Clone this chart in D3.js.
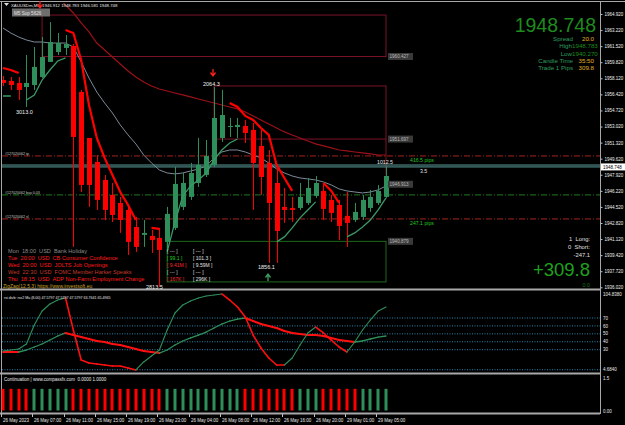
<!DOCTYPE html>
<html>
<head>
<meta charset="utf-8">
<script src="https://cdn.jsdelivr.net/npm/d3@7/dist/d3.min.js"></script>
<style>
  body { margin: 0; background: #000; }
  svg { display: block; font-family: "Liberation Sans", Arial, sans-serif; }
  text { white-space: pre; }
</style>
</head>
<body>
<svg id="chart" width="625" height="425"></svg>
<script>
// candles (XAUUSDm)
const candleOpen = [1957.94, 1957.84, 1957.63, 1957.20, 1957.41, 1958.26, 1959.85, 1960.90, 1961.33, 1961.54,
  1956.67, 1951.81, 1949.27, 1947.37, 1945.79, 1944.94, 1944.20, 1942.40, 1941.56, 1941.45,
  1941.24, 1940.82, 1942.30, 1944.52, 1945.58, 1947.05, 1947.90, 1948.96, 1951.81, 1952.97,
  1952.97, 1953.08, 1952.66, 1950.97, 1949.17, 1947.05, 1944.52, 1944.41, 1944.41, 1944.94,
  1945.68, 1946.21, 1945.26, 1944.73, 1943.57, 1943.14, 1943.46, 1944.41, 1944.94, 1945.58];
const candleHigh = [1958.37, 1958.26, 1958.26, 1960.59, 1961.43, 1962.49, 1964.07, 1962.91, 1962.70, 1961.75,
  1956.89, 1951.81, 1950.01, 1947.90, 1947.05, 1945.58, 1944.52, 1943.46, 1943.14, 1942.09,
  1942.30, 1944.52, 1948.75, 1948.11, 1949.17, 1951.81, 1951.60, 1957.20, 1956.89, 1953.93,
  1953.93, 1953.71, 1953.40, 1952.66, 1950.54, 1948.75, 1946.53, 1945.58, 1947.05, 1947.58,
  1947.79, 1947.05, 1945.79, 1945.26, 1946.10, 1944.94, 1945.79, 1946.32, 1946.84, 1948.75];
const candleLow = [1957.31, 1956.89, 1955.83, 1955.09, 1956.89, 1958.15, 1959.85, 1960.59, 1960.59, 1940.29,
  1946.10, 1944.52, 1944.20, 1943.14, 1942.93, 1941.77, 1939.44, 1939.76, 1940.29, 1939.65,
  1936.06, 1939.97, 1942.09, 1944.20, 1945.26, 1946.63, 1947.69, 1948.75, 1951.39, 1951.92,
  1951.81, 1951.28, 1944.20, 1945.79, 1938.60, 1938.60, 1942.83, 1942.93, 1944.20, 1944.73,
  1945.47, 1943.14, 1942.93, 1941.03, 1940.29, 1942.93, 1943.14, 1943.99, 1944.73, 1945.47];
const candleClose = [1957.63, 1957.41, 1956.89, 1957.63, 1959.32, 1960.37, 1961.96, 1961.85, 1961.75, 1951.92,
  1946.84, 1946.84, 1945.26, 1944.20, 1943.67, 1943.14, 1940.82, 1940.29, 1941.77, 1941.03,
  1939.97, 1943.78, 1946.95, 1947.05, 1948.11, 1948.96, 1949.91, 1953.93, 1954.24, 1953.08,
  1953.19, 1952.34, 1949.17, 1947.69, 1944.94, 1941.98, 1944.20, 1944.20, 1945.58, 1946.53,
  1947.05, 1944.31, 1943.88, 1942.51, 1942.83, 1943.99, 1945.26, 1945.58, 1946.21, 1947.79];

// moving averages on price (null = not drawn)
const trendDown = [1959.21, 1959.00, 1958.68, null, null, null, null, null, 1963.23, 1962.91,
  1960.06, 1955.30, 1951.81, 1949.70, 1947.90, 1946.10, 1944.73, 1943.14, null, 1942.30,
  1942.19, null, null, null, null, null, null, null, null, 1955.51,
  1955.09, 1954.14, 1953.71, 1952.87, 1952.13, 1948.96, 1947.58, 1946.21, null, null,
  null, 1947.05, 1946.21, 1944.94, null, null, null, null, null, null];
const trendUp = [1956.25, 1956.25, null, 1955.83, 1956.36, 1957.94, 1959.00, 1959.95, 1960.27, null,
  null, null, null, null, null, null, null, null, null, null,
  null, 1939.76, 1942.93, 1945.68, 1946.74, 1947.37, 1948.11, 1949.49, 1950.54, 1951.28,
  1951.70, null, null, null, null, 1940.82, 1941.35, 1942.30, 1943.36, 1944.20,
  1945.05, null, null, null, 1941.35, 1941.77, 1942.40, 1943.14, 1944.20, 1945.47];
const maGrey = [1963.44, 1962.91, 1962.49, 1962.17, 1961.96, 1961.96, 1961.85, 1961.85, 1961.85, 1961.43,
  1959.85, 1958.15, 1956.67, 1955.51, 1954.45, 1953.19, 1952.13, 1951.18, 1950.01, 1949.17,
  1948.43, 1948.11, 1948.01, 1948.11, 1948.32, 1948.53, 1948.85, 1949.70, 1950.33, 1950.54,
  1950.54, 1950.33, 1950.01, 1949.70, 1949.17, 1948.53, 1948.11, 1947.79, 1947.58, 1947.48,
  1947.37, 1947.16, 1946.84, 1946.42, 1946.21, 1946.10, 1946.00, 1946.10, 1946.32, 1946.74];
const maSlow = [null, null, null, null, null, null, null, 1966.72, 1965.87, 1965.03,
  1963.97, 1963.02, 1961.85, 1961.11, 1960.37, 1959.63, 1958.89, 1958.26, 1957.73, 1957.31,
  1956.99, 1956.78, 1956.57, 1956.36, 1956.15, 1955.93, 1955.72, 1955.51, 1955.30, 1955.09,
  1954.88, 1954.56, 1954.14, 1953.71, 1953.29, 1952.87, 1952.45, 1952.13, 1951.81, 1951.49,
  1951.18, 1950.97, 1950.76, 1950.54, 1950.44, 1950.33, 1950.23, 1950.12, 1950.01, 1950.01];

// rsi divb panel
const rsxFast = [28.4, 29.6, 30.9, 37.2, 61.2, 78.8, 87.7, 92.7, 95.2, 54.9,
  17.0, 13.2, 12.0, 10.7, 9.4, 9.4, 6.9, 4.4, 14.5, 22.0,
  29.6, 54.9, 76.3, 86.4, 91.5, 95.2, 97.8, 99.0, 100.3, 92.7,
  83.9, 71.3, 48.5, 32.1, 19.5, 10.7, 10.7, 19.5, 35.9, 51.1,
  58.6, 51.1, 42.2, 33.4, 27.1, 39.7, 54.9, 67.5, 78.8, 83.9];
const rsxMa = [27.1, 27.1, 27.1, 29.6, 33.4, 37.2, 42.2, 47.3, 51.1, 48.5,
  46.0, 43.5, 41.0, 39.7, 37.2, 35.9, 33.4, 30.9, 28.4, 27.1,
  25.8, 29.6, 35.9, 41.0, 44.8, 48.5, 52.3, 57.4, 62.4, 66.2,
  68.7, 70.0, 66.2, 62.4, 59.9, 57.4, 53.6, 51.1, 49.8, 48.5,
  48.5, 47.3, 44.8, 42.2, 41.0, 39.7, 41.0, 43.5, 46.0, 47.3];
const oscLevels = [70, 60, 50, 40, 30];

// continuation panel: 1 = up (green), 0 = down (red)
const contSignal = [0, 0, 0, 0, 1, 1, 1, 1, 1, 0,
  0, 0, 0, 0, 0, 0, 0, 0, 0, 0,
  0, 1, 1, 1, 1, 1, 1, 1, 1, 1,
  1, 0, 0, 0, 0, 0, 0, 0, 1, 1,
  1, 0, 0, 0, 0, 0, 1, 1, 1, 1];

const priceTicks = [1964.92, 1963.22, 1961.52, 1959.82, 1958.12, 1956.42, 1954.72, 1953.02, 1951.32,
  1949.62, 1947.92, 1946.22, 1944.52, 1942.82, 1941.12, 1939.42, 1937.72, 1936.02];
const timeTickIdx = [0, 4, 8, 12, 16, 20, 24, 28, 32, 36, 40, 44, 48];
const timeLabels = ['26 May 2023', '26 May 07:00', '26 May 11:00', '26 May 15:00', '26 May 19:00',
  '26 May 23:00', '26 May 04:00', '26 May 08:00', '26 May 12:00', '26 May 16:00',
  '26 May 20:00', '29 May 01:00', '29 May 05:00'];

const newsRows = ['Mon  18:00  USD  Bank Holiday', 'Tue  20:00  USD  CB Consumer Confidence',
  'Wed  20:00  USD  JOLTS Job Openings', 'Wed  22:30  USD  FOMC Member Harker Speaks',
  'Thu  18:15  USD  ADP Non-Farm Employment Change'];
const newsColors = ['#8a8a8a', '#ff1a1a', '#ff1a1a', '#c0392b', '#ff1a1a'];
const newsActual = ['[ --- ]', '[ 99.1 ]', '[ 9.41M ]', '[ --- ]', '[ 167K ]'];
const actualColors = ['#d0d0d0', '#1fd11f', '#ff2a2a', '#d0d0d0', '#ff2a2a'];
const newsForecast = ['[ --- ]', '[ 101.3 ]', '[ 9.59M ]', '[ --- ]', '[ 296K ]'];

const lastPrice = 1948.748;
const askPrice = 1948.95;
const orderTp = 1949.91, orderOpen = 1945.79, orderSl = 1943.25;

const W = 625, H = 425, axisX = 600;
const green = '#2f8f5b', red = '#ff0000';

const svg = d3.select('#chart');
svg.append('rect').attr('width', W).attr('height', H).attr('fill', '#000');

const x = d3.scaleLinear().domain([0, candleOpen.length - 1]).range([3, 386]);
const y = d3.scaleLinear().domain([1936.02, 1964.92]).range([287.3, 14]);
const yOsc = d3.scaleLinear().domain([30, 70]).range([349.7, 318]);
const yCont = d3.scaleLinear().domain([0, 1.5]).range([410.5, 378]);

const defs = svg.append('defs');
defs.append('clipPath').attr('id', 'clipMain').append('rect')
  .attr('x', 2).attr('y', 3).attr('width', axisX - 2).attr('height', 285);
defs.append('clipPath').attr('id', 'clipOsc').append('rect')
  .attr('x', 2).attr('y', 291).attr('width', axisX - 2).attr('height', 82);

// frame
const frame = svg.append('g').attr('stroke', '#a8a8a8').attr('fill', 'none');
frame.append('line').attr('x1', 0).attr('x2', W).attr('y1', 1.5).attr('y2', 1.5);
frame.append('line').attr('x1', 1.5).attr('x2', 1.5).attr('y1', 1).attr('y2', 414);
frame.append('line').attr('x1', axisX + 0.5).attr('x2', axisX + 0.5).attr('y1', 1).attr('y2', 414);
[289.5, 373.5, 413.5].forEach(yy => {
  frame.append('line').attr('x1', 0).attr('x2', axisX).attr('y1', yy).attr('y2', yy).attr('stroke-width', 2);
});

// ---------- main panel ----------
const g = svg.append('g').attr('clip-path', 'url(#clipMain)');

// boxes
const boxes = [
  { i0: 5, top: 1964.81, bottom: 1960.427, color: '#7a1328' },
  { i0: 27, top: 1957.31, bottom: 1951.697, color: '#7a1328' },
  { i0: 21, top: 1940.879, bottom: 1936.59, color: '#1e6a1e' }
];
boxes.forEach(b => {
  g.append('rect')
    .attr('x', x(b.i0)).attr('y', y(b.top))
    .attr('width', x(candleOpen.length - 1) - x(b.i0))
    .attr('height', y(b.bottom) - y(b.top))
    .attr('fill', 'none').attr('stroke', b.color).attr('stroke-width', 1);
});
g.append('line').attr('x1', x(49)).attr('x2', x(49))
  .attr('y1', y(1951.697)).attr('y2', y(1947.9)).attr('stroke', '#7a1328');

// order lines
function hLine(price, color, dash, width) {
  g.append('line').attr('x1', 2).attr('x2', axisX)
    .attr('y1', y(price)).attr('y2', y(price))
    .attr('stroke', color).attr('stroke-width', width || 1)
    .attr('stroke-dasharray', dash || null);
}
hLine(orderTp, '#a3241c', '6,2,1,2');
hLine(askPrice, '#5a9e9a');
hLine(lastPrice, '#5a9e9a');
hLine(orderOpen, '#1f7a1f', '6,2,1,2');
hLine(orderSl, '#a3241c', '6,2,1,2');

// moving averages
function maLine(data, color, width) {
  const line = d3.line()
    .defined(d => d != null)
    .x((d, i) => x(i))
    .y(d => y(d));
  g.append('path').datum(data)
    .attr('fill', 'none').attr('stroke', color).attr('stroke-width', width)
    .attr('d', line);
}
maLine(maSlow, '#9b1118', 1.2);
maLine(maGrey, '#7d8a99', 1);

// candles
const idx = d3.range(candleOpen.length);
const candles = g.append('g');
candles.selectAll('.wick').data(idx).enter().append('line')
  .attr('x1', i => Math.round(x(i)) + 0.5).attr('x2', i => Math.round(x(i)) + 0.5)
  .attr('y1', i => y(candleHigh[i])).attr('y2', i => y(candleLow[i]))
  .attr('stroke', i => candleClose[i] >= candleOpen[i] ? green : red);
candles.selectAll('.body').data(idx).enter().append('rect')
  .attr('x', i => Math.round(x(i)) - 2)
  .attr('y', i => y(Math.max(candleOpen[i], candleClose[i])))
  .attr('width', 5)
  .attr('height', i => Math.max(1, Math.abs(y(candleOpen[i]) - y(candleClose[i]))))
  .attr('fill', i => candleClose[i] >= candleOpen[i] ? green : red);

maLine(trendUp, '#3a9a66', 1.3);
maLine(trendDown, '#ff0000', 2.2);

// ---------- texts on main panel ----------
const txt = (px, py, s, size, color, anchor) => svg.append('text')
  .attr('x', px).attr('y', py).attr('font-size', size).attr('fill', color)
  .attr('text-anchor', anchor || 'start').text(s);

// header
svg.append('path').attr('d', 'M4,3 L9,3 L6.5,6 Z').attr('fill', '#ddd');
txt(11, 7, 'XAUUSDm,M5  1946.912 1948.783 1946.581 1948.748', 4.3, '#e8e8e8');
svg.append('rect').attr('x', 12).attr('y', 8.5).attr('width', 38).attr('height', 8).attr('fill', '#6e6e6e');
txt(14, 14.5, 'M5 Sup 5626', 4.6, '#e0e0e0');

// order labels
txt(5, y(orderTp) - 1, '#127020062 tp', 3.6, '#c8c8c8');
txt(5, y(orderOpen) - 1, '#127020062 buy 0.03', 3.6, '#c8c8c8');
txt(5, y(orderSl) - 1, '#127020062 sl', 3.6, '#c8c8c8');
txt(410, y(orderTp) + 6, '416.5 pips', 5.2, '#23c423');
txt(410, y(orderSl) + 6, '247.1 pips', 5.2, '#23c423');
txt(420, y(lastPrice) + 6, '3.5', 5.2, '#e0e0e0');
txt(377, y(lastPrice) - 2.5, '1012.5', 5.2, '#e8e8e8');

// zigzag labels
txt(16, y(1955.09) + 7, '3013.0', 5.5, '#f0f0f0');
txt(203, y(1957.20) - 1, '2064.3', 5.5, '#f0f0f0');
txt(146, 289, '2813.5', 5.5, '#f0f0f0');
txt(258, y(1938.60) + 6, '1856.1', 5.5, '#f0f0f0');
function arrow(px, py, color, down) {
  const s = down ? 1 : -1;
  svg.append('path')
    .attr('d', `M${px},${py - 4 * s} L${px},${py + 2 * s} M${px - 2.5},${py - 0.5 * s} L${px},${py + 3 * s} L${px + 2.5},${py - 0.5 * s}`)
    .attr('stroke', color).attr('stroke-width', 1.3).attr('fill', 'none');
}
arrow(213, 73, '#ff2020', true);
arrow(40, 5, '#ff2020', true);
arrow(268, 277, '#3aa060', false);

// box price labels
[[1960.427, '1960.427'], [1951.697, '1951.697'], [1946.913, '1946.913'], [1940.879, '1940.879']].forEach(d => {
  svg.append('rect').attr('x', 388).attr('y', y(d[0]) - 3.5).attr('width', 25).attr('height', 7).attr('fill', '#3a3a3a');
  txt(389.5, y(d[0]) + 1.6, d[1], 4.6, '#b8b8b8');
});

// news calendar
newsRows.forEach((s, i) => {
  const yy = 252.5 + i * 7;
  txt(8, yy, s, 5.6, newsColors[i]);
  txt(167, yy, newsActual[i], 5, actualColors[i]);
  txt(193, yy, newsForecast[i], 5, '#e0e0e0');
});
txt(3, 288.2, 'ZigZag(12,5,3) https://www.investsoft.eu', 5, '#c9a227');

// info panel
txt(596, 32, '1948.748', 19.5, '#1e8c1e', 'end');
const infoRows = [['Spread', '20.0', '#e0b020'], ['High', '1948.783', '#1e8c1e'], ['Low', '1940.270', '#1e8c1e'],
  ['Candle Time', '35:50', '#e0b020'], ['Trade 1 Pips', '309.8', '#e0b020']];
infoRows.forEach((r, i) => {
  const yy = 41 + i * 7.3;
  if (i === 1 || i === 2) {
    txt(572, yy, r[0], 6.2, '#2e9e5e', 'end');
    txt(572, yy, r[1], 6.2, r[2]);
  } else {
    txt(573, yy, r[0], 6.2, '#2e9e5e', 'end');
    txt(594, yy, r[1], 6.2, r[2], 'end');
  }
});
txt(590, 240.5, '1  Long:', 5.8, '#e0e0e0', 'end');
txt(590, 249, '0  Short:', 5.8, '#e0e0e0', 'end');
txt(590, 257.2, '-247.1', 5.8, '#e0e0e0', 'end');
txt(590, 276, '+309.8', 18.5, '#1fa01f', 'end');
txt(590, 286.5, '0.0', 5.4, '#1a6f1a', 'end');

// price axis
const axis = svg.append('g').attr('transform', `translate(${axisX + 0.5},0)`)
  .call(d3.axisRight(y).tickValues(priceTicks).tickFormat(d3.format('.3f')).tickSize(2).tickPadding(2));
axis.select('.domain').remove();
axis.selectAll('line').attr('stroke', '#c0c0c0');
axis.selectAll('text').attr('fill', '#f0f0f0').attr('font-size', 4.5)
  .attr('font-family', '"Liberation Sans", Arial, sans-serif');
svg.append('rect').attr('x', axisX + 1).attr('y', y(lastPrice) - 3.5).attr('width', 24).attr('height', 7).attr('fill', '#ffffff');
txt(axisX + 3, y(lastPrice) + 1.6, '1948.748', 4.5, '#000');

// ---------- rsi divb panel ----------
const og = svg.append('g').attr('clip-path', 'url(#clipOsc)');
oscLevels.concat([4.684]).forEach(v => {
  og.append('line').attr('x1', 2).attr('x2', axisX).attr('y1', yOsc(v)).attr('y2', yOsc(v))
    .attr('stroke', '#2a86b0').attr('stroke-dasharray', '1,1.5');
});
function oscSegments(data, wUp, wDn) {
  for (let i = 0; i < data.length - 1; i++) {
    const up = data[i + 1] > data[i];
    og.append('line')
      .attr('x1', x(i)).attr('y1', yOsc(data[i]))
      .attr('x2', x(i + 1)).attr('y2', yOsc(data[i + 1]))
      .attr('stroke', up ? '#2f8f5b' : '#ff1010')
      .attr('stroke-width', up ? wUp : wDn).attr('stroke-linecap', 'round');
  }
}
oscSegments(rsxMa, 1.3, 2);
oscSegments(rsxFast, 1.1, 1.6);
txt(4, 299, 'rsi divb: rsx2 Ma (8.00) 47.5797 47.5797 47.5797 63.7641 65.4965', 3.6, '#e8e8e8');
txt(603, 296, '104.8380', 4.5, '#e8e8e8');
oscLevels.forEach(v => txt(603, yOsc(v) + 1.6, String(v), 4.5, '#e8e8e8'));
txt(603, yOsc(4.684) + 1, '4.6840', 4.5, '#e8e8e8');

// ---------- continuation panel ----------
svg.append('g').selectAll('rect').data(idx).enter().append('rect')
  .attr('x', i => Math.round(x(i)) - 1.5)
  .attr('y', yCont(1))
  .attr('width', 3)
  .attr('height', yCont(0) - yCont(1))
  .attr('fill', i => contSignal[i] ? '#2f8f5b' : '#ff0000');
txt(4, 381, 'Continuation | www.compassfx.com  0.0000 1.0000', 4.5, '#e8e8e8');
txt(603, yCont(1.5) + 1.6, '1.5', 4.5, '#e8e8e8');
txt(603, yCont(0) + 2, '0.00', 4.5, '#e8e8e8');

// ---------- time axis ----------
timeTickIdx.forEach((ti, k) => {
  const px = Math.round(x(ti)) - 1.5;
  svg.append('line').attr('x1', px).attr('x2', px).attr('y1', 414).attr('y2', 417).attr('stroke', '#c0c0c0');
  txt(px + 1.5, 421.5, timeLabels[k], 4.5, '#e8e8e8');
});
</script>
</body>
</html>
